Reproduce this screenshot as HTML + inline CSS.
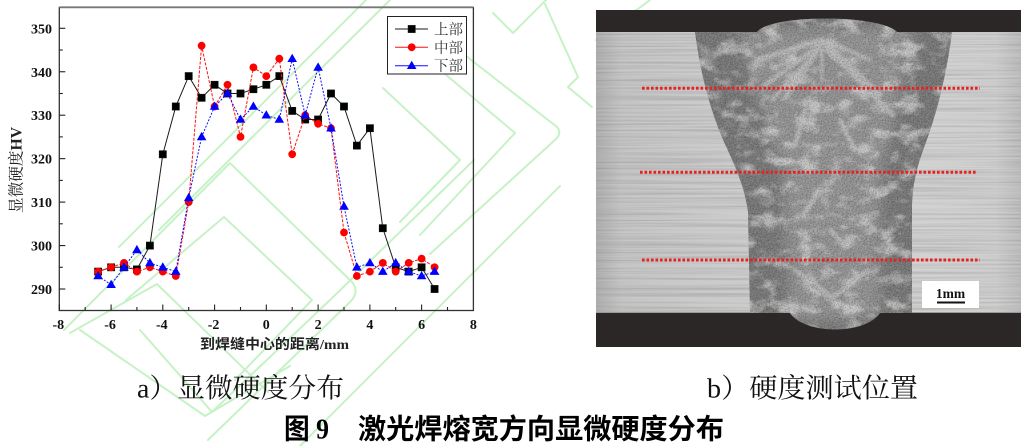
<!DOCTYPE html>
<html><head><meta charset="utf-8"><style>
html,body{margin:0;padding:0;background:#fff;}
svg{display:block;}
</style></head><body>
<svg width="1026" height="446" viewBox="0 0 1026 446" xmlns="http://www.w3.org/2000/svg">
<defs>
  <rect id="sq" x="-3.6" y="-3.6" width="7.2" height="7.2" fill="#000" stroke="#0a1a0a" stroke-width="0.6"/>
  <circle id="ci" r="3.9" fill="#ff0000"/>
  <path id="tr" d="M0,-5 L4.8,3.3 L-4.8,3.3 Z" fill="#0000ff"/>
  <clipPath id="mclip"><rect x="596" y="10" width="425" height="337"/></clipPath>
  <clipPath id="baseclip"><rect x="596" y="32" width="425" height="281"/></clipPath>
  <clipPath id="weldclip"><path d="M695,32 C700,72 710,110 724,142 C736,168 745,188 748,212 L750,313 L790,313 C805,335 865,335 880,313 L912,313 L912,210 C912,186 917,166 925,145 C938,110 947,72 952,32 L897,32 C880,14 770,14 757,32 Z"/></clipPath>
  <linearGradient id="baseg" x1="596" y1="0" x2="1021" y2="0" gradientUnits="userSpaceOnUse">
    <stop offset="0" stop-color="#b2b2b2"/>
    <stop offset="0.06" stop-color="#c6c6c6"/>
    <stop offset="0.25" stop-color="#cbcbcb"/>
    <stop offset="0.75" stop-color="#d2d2d2"/>
    <stop offset="0.94" stop-color="#d0d0d0"/>
    <stop offset="1" stop-color="#c0c0c0"/>
  </linearGradient>
  <filter id="streak" x="0" y="0" width="100%" height="100%">
    <feTurbulence type="fractalNoise" baseFrequency="0.005 0.5" numOctaves="3" seed="5"/>
    <feColorMatrix type="matrix" values="0 0 0 0 0  0 0 0 0 0  0 0 0 0 0  1.8 0 0 0 -0.7"/>
  </filter>
  <filter id="grainD" x="0" y="0" width="100%" height="100%">
    <feTurbulence type="fractalNoise" baseFrequency="0.75" numOctaves="2" seed="2"/>
    <feColorMatrix type="matrix" values="0 0 0 0 0  0 0 0 0 0  0 0 0 0 0  2.4 0 0 0 -0.95"/>
  </filter>
  <filter id="grainL" x="0" y="0" width="100%" height="100%">
    <feTurbulence type="fractalNoise" baseFrequency="0.6" numOctaves="2" seed="9"/>
    <feColorMatrix type="matrix" values="0 0 0 0 1  0 0 0 0 1  0 0 0 0 1  2.4 0 0 0 -1.0"/>
  </filter>
  <filter id="patch" x="0" y="0" width="100%" height="100%">
    <feTurbulence type="fractalNoise" baseFrequency="0.05 0.07" numOctaves="3" seed="11"/>
    <feColorMatrix type="matrix" values="0 0 0 0 0.8  0 0 0 0 0.8  0 0 0 0 0.8  3.2 0 0 0 -1.5"/>
  </filter>
  <filter id="blur4"><feGaussianBlur stdDeviation="6"/></filter>
  <filter id="blur1"><feGaussianBlur stdDeviation="1.2"/></filter>
  <filter id="blurEdge"><feGaussianBlur stdDeviation="1.5"/></filter>
</defs>

<!-- watermark -->
<g fill="none" stroke="#c6f2c6" stroke-width="2" stroke-linejoin="round" stroke-linecap="round">
  <path d="M64,330 L230,163 L352,282 Q360,292 350,302 L208,440"/>
  <path d="M70,333 L157,284 L268,392"/>
  <path d="M126,300 L224,217 L312,300 L235,380"/>
  <path d="M119,247 L366,0"/>
  <path d="M159,230 L390,0"/>
  <path d="M80,330 L205,416 L290,366"/>
  <path d="M140,330 L212,412 L330,300 L474,160"/>
  <path d="M300,446 L560,186"/>
  <path d="M420,20 L557,127 Q562,133 556,139 L430,254"/>
  <path d="M400,36 L515,133 L420,235"/>
  <path d="M383,88 L460,160 L400,222"/>
  <path d="M493,13 L513,33 L546,0"/>
  <path d="M545,4 L578,77 L568,87 L592,107"/>
  <path d="M596,40 L650,0"/>
</g>

<!-- ===== Chart ===== -->
<rect x="59.3" y="7.5" width="414.1" height="303" fill="none" stroke="#333" stroke-width="1.3"/>
<line x1="59.3" y1="7.2" x2="473.4" y2="7.2" stroke="#777" stroke-width="1.6"/>

<!-- bottom ticks -->
<g stroke="#222" stroke-width="1.1">
  <line x1="59.3" y1="310.5" x2="59.3" y2="304.5"/>
  <line x1="111.1" y1="310.5" x2="111.1" y2="304.5"/>
  <line x1="162.8" y1="310.5" x2="162.8" y2="304.5"/>
  <line x1="214.6" y1="310.5" x2="214.6" y2="304.5"/>
  <line x1="266.3" y1="310.5" x2="266.3" y2="304.5"/>
  <line x1="318.1" y1="310.5" x2="318.1" y2="304.5"/>
  <line x1="369.9" y1="310.5" x2="369.9" y2="304.5"/>
  <line x1="421.6" y1="310.5" x2="421.6" y2="304.5"/>
  <line x1="85.2" y1="310.5" x2="85.2" y2="307"/>
  <line x1="136.9" y1="310.5" x2="136.9" y2="307"/>
  <line x1="188.7" y1="310.5" x2="188.7" y2="307"/>
  <line x1="240.5" y1="310.5" x2="240.5" y2="307"/>
  <line x1="292.2" y1="310.5" x2="292.2" y2="307"/>
  <line x1="344.0" y1="310.5" x2="344.0" y2="307"/>
  <line x1="395.7" y1="310.5" x2="395.7" y2="307"/>
  <line x1="447.5" y1="310.5" x2="447.5" y2="307"/>
  <!-- left ticks -->
  <line x1="59.3" y1="289" x2="65.3" y2="289"/>
  <line x1="59.3" y1="245.55" x2="65.3" y2="245.55"/>
  <line x1="59.3" y1="202.1" x2="65.3" y2="202.1"/>
  <line x1="59.3" y1="158.65" x2="65.3" y2="158.65"/>
  <line x1="59.3" y1="115.2" x2="65.3" y2="115.2"/>
  <line x1="59.3" y1="71.75" x2="65.3" y2="71.75"/>
  <line x1="59.3" y1="28.3" x2="65.3" y2="28.3"/>
  <line x1="59.3" y1="267.3" x2="62.8" y2="267.3"/>
  <line x1="59.3" y1="223.8" x2="62.8" y2="223.8"/>
  <line x1="59.3" y1="180.4" x2="62.8" y2="180.4"/>
  <line x1="59.3" y1="136.9" x2="62.8" y2="136.9"/>
  <line x1="59.3" y1="93.5" x2="62.8" y2="93.5"/>
  <line x1="59.3" y1="50.0" x2="62.8" y2="50.0"/>
</g>

<!-- tick labels -->
<g font-family="'Liberation Serif', serif" font-weight="bold" font-size="14" fill="#111" text-anchor="end">
  <text x="52" y="33.3">350</text>
  <text x="52" y="76.8">340</text>
  <text x="52" y="120.2">330</text>
  <text x="52" y="163.7">320</text>
  <text x="52" y="207.1">310</text>
  <text x="52" y="250.6">300</text>
  <text x="52" y="294">290</text>
</g>
<g font-family="'Liberation Serif', serif" font-weight="bold" font-size="14" fill="#111" text-anchor="middle">
  <text x="58.3" y="329">-8</text>
  <text x="110.1" y="329">-6</text>
  <text x="161.8" y="329">-4</text>
  <text x="213.6" y="329">-2</text>
  <text x="266.3" y="329">0</text>
  <text x="318.1" y="329">2</text>
  <text x="369.9" y="329">4</text>
  <text x="421.6" y="329">6</text>
  <text x="473.4" y="329">8</text>
</g>

<!-- axis titles -->
<text x="200" y="349" font-size="14" font-weight="bold" textLength="149" lengthAdjust="spacingAndGlyphs" font-family="'Liberation Serif', 'Noto Sans CJK SC', sans-serif" fill="#222">到焊缝中心的距离/mm</text>
<text transform="translate(21.5,213) rotate(-90)" x="0" y="0" font-size="16" textLength="86" lengthAdjust="spacingAndGlyphs" font-family="'Liberation Serif', 'Noto Serif CJK SC', serif" fill="#222">显微硬度<tspan font-weight="bold">HV</tspan></text>

<!-- series: black -->
<polyline fill="none" stroke="#1a1a1a" stroke-width="1" points="98.1,271.6 111.1,267.3 124.0,267.3 136.9,269.4 149.9,245.6 162.8,154.3 175.8,106.5 188.7,76.1 201.6,97.8 214.6,84.8 227.5,93.5 240.5,93.5 253.4,89.2 266.3,84.8 279.3,76.1 292.2,110.9 305.2,119.5 318.1,119.5 331.0,93.5 344.0,106.5 356.9,145.6 369.9,128.2 382.8,228.2 395.7,267.3 408.7,271.6 421.6,267.3 434.6,289"/>
<g>
  <use href="#sq" x="98.1" y="271.6"/><use href="#sq" x="111.1" y="267.3"/><use href="#sq" x="124.0" y="267.3"/><use href="#sq" x="136.9" y="269.4"/><use href="#sq" x="149.9" y="245.6"/><use href="#sq" x="162.8" y="154.3"/><use href="#sq" x="175.8" y="106.5"/><use href="#sq" x="188.7" y="76.1"/><use href="#sq" x="201.6" y="97.8"/><use href="#sq" x="214.6" y="84.8"/><use href="#sq" x="227.5" y="93.5"/><use href="#sq" x="240.5" y="93.5"/><use href="#sq" x="253.4" y="89.2"/><use href="#sq" x="266.3" y="84.8"/><use href="#sq" x="279.3" y="76.1"/><use href="#sq" x="292.2" y="110.9"/><use href="#sq" x="305.2" y="119.5"/><use href="#sq" x="318.1" y="119.5"/><use href="#sq" x="331.0" y="93.5"/><use href="#sq" x="344.0" y="106.5"/><use href="#sq" x="356.9" y="145.6"/><use href="#sq" x="369.9" y="128.2"/><use href="#sq" x="382.8" y="228.2"/><use href="#sq" x="395.7" y="267.3"/><use href="#sq" x="408.7" y="271.6"/><use href="#sq" x="421.6" y="267.3"/><use href="#sq" x="434.6" y="289"/>
</g>

<!-- series: red -->
<polyline fill="none" stroke="#ff1010" stroke-width="1" stroke-dasharray="3 1.5" points="98.1,271.6 111.1,267.3 124.0,262.9 136.9,271.6 149.9,267.3 162.8,271.6 175.8,276.0 188.7,202.1 201.6,45.7 214.6,106.5 227.5,84.8 240.5,136.9 253.4,67.4 266.3,76.1 279.3,58.7 292.2,154.3 305.2,115.2 318.1,123.8 331.0,128.2 344.0,232.5 356.9,276.0 369.9,271.6 382.8,262.9 395.7,271.6 408.7,262.9 421.6,258.6 434.6,267.3"/>
<g>
  <use href="#ci" x="98.1" y="271.6"/><use href="#ci" x="111.1" y="267.3"/><use href="#ci" x="124.0" y="262.9"/><use href="#ci" x="136.9" y="271.6"/><use href="#ci" x="149.9" y="267.3"/><use href="#ci" x="162.8" y="271.6"/><use href="#ci" x="175.8" y="276.0"/><use href="#ci" x="188.7" y="202.1"/><use href="#ci" x="201.6" y="45.7"/><use href="#ci" x="214.6" y="106.5"/><use href="#ci" x="227.5" y="84.8"/><use href="#ci" x="240.5" y="136.9"/><use href="#ci" x="253.4" y="67.4"/><use href="#ci" x="266.3" y="76.1"/><use href="#ci" x="279.3" y="58.7"/><use href="#ci" x="292.2" y="154.3"/><use href="#ci" x="305.2" y="115.2"/><use href="#ci" x="318.1" y="123.8"/><use href="#ci" x="331.0" y="128.2"/><use href="#ci" x="344.0" y="232.5"/><use href="#ci" x="356.9" y="276.0"/><use href="#ci" x="369.9" y="271.6"/><use href="#ci" x="382.8" y="262.9"/><use href="#ci" x="395.7" y="271.6"/><use href="#ci" x="408.7" y="262.9"/><use href="#ci" x="421.6" y="258.6"/><use href="#ci" x="434.6" y="267.3"/>
</g>

<!-- series: blue -->
<polyline fill="none" stroke="#1010ff" stroke-width="1" stroke-dasharray="2 1.5" points="98.1,276.0 111.1,284.7 124.0,267.3 136.9,249.9 149.9,262.9 162.8,267.3 175.8,271.6 188.7,197.8 201.6,136.9 214.6,106.5 227.5,93.5 240.5,119.5 253.4,106.5 266.3,115.2 279.3,119.5 292.2,58.7 305.2,115.2 318.1,67.4 331.0,128.2 344.0,206.4 356.9,267.3 369.9,262.9 382.8,271.6 395.7,262.9 408.7,271.6 421.6,276.0 434.6,271.6"/>
<g>
  <use href="#tr" x="98.1" y="276.0"/><use href="#tr" x="111.1" y="284.7"/><use href="#tr" x="124.0" y="267.3"/><use href="#tr" x="136.9" y="249.9"/><use href="#tr" x="149.9" y="262.9"/><use href="#tr" x="162.8" y="267.3"/><use href="#tr" x="175.8" y="271.6"/><use href="#tr" x="188.7" y="197.8"/><use href="#tr" x="201.6" y="136.9"/><use href="#tr" x="214.6" y="106.5"/><use href="#tr" x="227.5" y="93.5"/><use href="#tr" x="240.5" y="119.5"/><use href="#tr" x="253.4" y="106.5"/><use href="#tr" x="266.3" y="115.2"/><use href="#tr" x="279.3" y="119.5"/><use href="#tr" x="292.2" y="58.7"/><use href="#tr" x="305.2" y="115.2"/><use href="#tr" x="318.1" y="67.4"/><use href="#tr" x="331.0" y="128.2"/><use href="#tr" x="344.0" y="206.4"/><use href="#tr" x="356.9" y="267.3"/><use href="#tr" x="369.9" y="262.9"/><use href="#tr" x="382.8" y="271.6"/><use href="#tr" x="395.7" y="262.9"/><use href="#tr" x="408.7" y="271.6"/><use href="#tr" x="421.6" y="276.0"/><use href="#tr" x="434.6" y="271.6"/>
</g>

<!-- legend -->
<rect x="387.5" y="16.5" width="79" height="57.5" fill="#fff" stroke="#222" stroke-width="1"/>
<line x1="395" y1="29" x2="428" y2="29" stroke="#1a1a1a" stroke-width="1"/>
<use href="#sq" x="411.7" y="29"/>
<line x1="395" y1="47.3" x2="428" y2="47.3" stroke="#ff1010" stroke-width="1"/>
<use href="#ci" x="411.7" y="47.3"/>
<line x1="395" y1="65.7" x2="428" y2="65.7" stroke="#1010ff" stroke-width="1"/>
<use href="#tr" x="411.7" y="65.7"/>
<g font-family="'Liberation Serif', 'Noto Serif CJK SC', serif" font-size="14.5" fill="#333">
  <text x="434" y="34.5">上部</text>
  <text x="434" y="52.8">中部</text>
  <text x="434" y="71.2">下部</text>
</g>

<!-- ===== Micrograph ===== -->
<g clip-path="url(#mclip)">
  <rect x="596" y="10" width="425" height="337" fill="#2c2727"/>
  <rect x="596" y="32" width="425" height="281" fill="url(#baseg)"/>
  <g clip-path="url(#baseclip)">
    <rect x="596" y="32" width="425" height="281" filter="url(#streak)" opacity="0.16"/>
  </g>
  <line x1="596" y1="312.5" x2="1021" y2="312.5" stroke="#9a9a9a" stroke-width="1"/>
  <!-- weld -->
  <g clip-path="url(#weldclip)">
    <rect x="690" y="10" width="270" height="330" fill="#7b7b7b"/>
    <path d="M738,28 C750,80 770,130 782,172 L790,320 L878,320 L882,172 C892,130 905,80 915,28 Z" fill="#979797" filter="url(#blur4)"/>
    <rect x="690" y="10" width="270" height="330" filter="url(#patch)" opacity="0.65"/>
    <g stroke="#c4c4c4" stroke-linecap="round" fill="none" filter="url(#blur1)" opacity="0.8">
      <path d="M822,40 L758,60" stroke-width="6"/>
      <path d="M820,45 L765,85" stroke-width="5"/>
      <path d="M818,50 L772,100" stroke-width="4"/>
      <path d="M815,55 L785,98" stroke-width="5"/>
      <path d="M826,44 L880,95" stroke-width="6"/>
      <path d="M828,50 L893,115" stroke-width="5"/>
      <path d="M830,42 L870,60" stroke-width="4"/>
      <path d="M822,48 L822,80" stroke-width="3"/>
      <path d="M805,110 L795,145" stroke-width="5"/>
      <path d="M840,120 L855,150" stroke-width="5"/>
      <path d="M820,190 L803,215" stroke-width="6"/>
      <path d="M830,230 L845,245" stroke-width="5"/>
      <path d="M830,295 L795,270" stroke-width="4"/>
      <path d="M832,298 L868,270" stroke-width="4"/>
      <path d="M828,300 L810,275" stroke-width="3"/>
    </g>
    <rect x="690" y="10" width="270" height="330" filter="url(#grainD)" opacity="0.3"/>
    <rect x="690" y="10" width="270" height="330" filter="url(#grainL)" opacity="0.15"/>
  </g>
  <!-- red dotted lines -->
  <g stroke="#e8201e" stroke-width="3" stroke-dasharray="2.6 1.9">
    <line x1="642" y1="88.3" x2="980" y2="88.3"/>
    <line x1="640" y1="172.3" x2="977" y2="172.3"/>
    <line x1="642" y1="260" x2="980" y2="260"/>
  </g>
  <!-- scale bar -->
  <rect x="922" y="281" width="57" height="27" fill="#fff"/>
  <text x="950.5" y="298" text-anchor="middle" font-family="'Liberation Serif', serif" font-weight="bold" font-size="13.5" fill="#111">1mm</text>
  <line x1="937" y1="302.5" x2="965" y2="302.5" stroke="#111" stroke-width="2"/>
</g>

<!-- captions -->
<text x="137" y="397.5" font-size="27" textLength="207" lengthAdjust="spacingAndGlyphs" font-family="'Liberation Serif', 'Noto Serif CJK SC', serif" fill="#111">a）显微硬度分布</text>
<text x="707" y="397.5" font-size="27" textLength="211" lengthAdjust="spacingAndGlyphs" font-family="'Liberation Serif', 'Noto Serif CJK SC', serif" fill="#111">b）硬度测试位置</text>
<text x="284" y="438.5" font-size="28" font-weight="bold" textLength="45" lengthAdjust="spacingAndGlyphs" font-family="'Liberation Serif', 'Noto Sans CJK SC', sans-serif" fill="#000">图 9</text>
<text x="358" y="438.5" font-size="28" font-weight="bold" textLength="366" lengthAdjust="spacingAndGlyphs" font-family="'Liberation Sans', 'Noto Sans CJK SC', sans-serif" fill="#000">激光焊熔宽方向显微硬度分布</text>
</svg>
</body></html>
